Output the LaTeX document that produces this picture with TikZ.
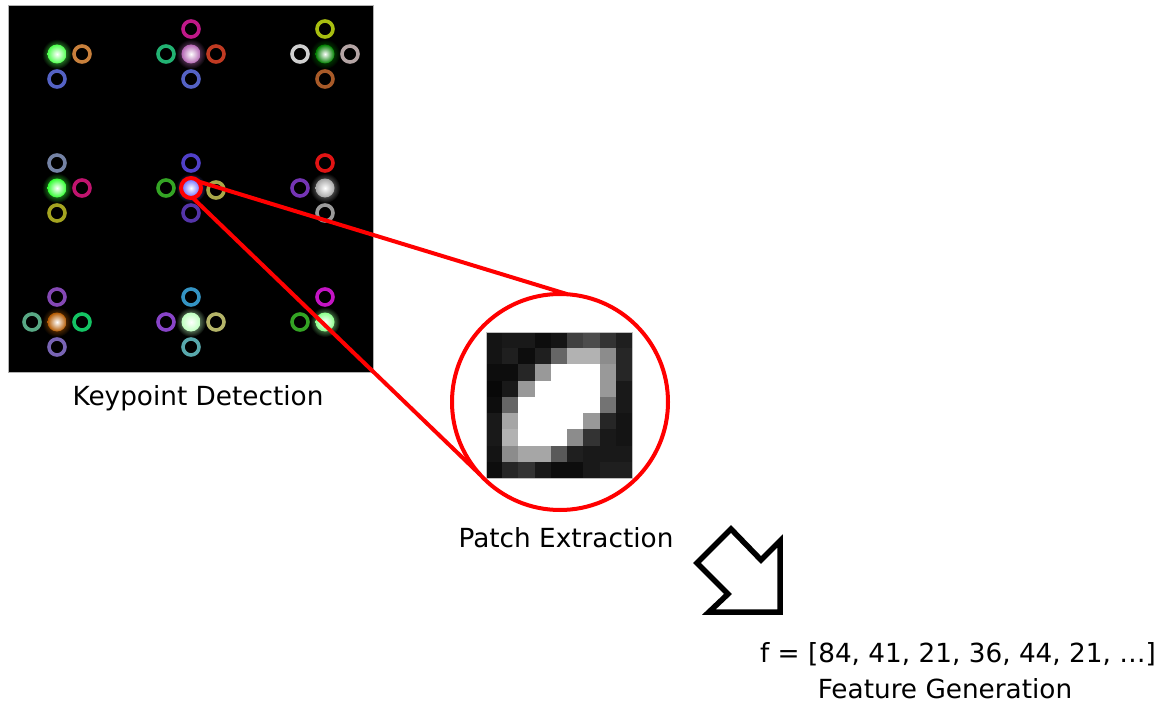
\documentclass[tikz,border=0pt]{standalone}
\usepackage{fontspec}
\usetikzlibrary{calc}
\setmainfont{DejaVu Sans}
\definecolor{cOrange}{HTML}{C8803C}
\definecolor{cBlue}{HTML}{5462C4}
\definecolor{cMag}{HTML}{C01888}
\definecolor{cGreen}{HTML}{22B272}
\definecolor{cRedO}{HTML}{C03A22}
\definecolor{cYG}{HTML}{A8BE10}
\definecolor{cLGray}{HTML}{CFCFCF}
\definecolor{cPGray}{HTML}{B4A4A4}
\definecolor{cBrown}{HTML}{A85A28}
\definecolor{cGBlue}{HTML}{7482A4}
\definecolor{cPink}{HTML}{C0146E}
\definecolor{cOlive}{HTML}{A4A420}
\definecolor{cViolet}{HTML}{5040C8}
\definecolor{cLeaf}{HTML}{34A424}
\definecolor{cOlive2}{HTML}{A8A848}
\definecolor{cPurp}{HTML}{5434A8}
\definecolor{cRed}{HTML}{E01414}
\definecolor{cPurp2}{HTML}{7434B4}
\definecolor{cGray}{HTML}{9A9A9A}
\definecolor{cPurp3}{HTML}{8448B4}
\definecolor{cTeal}{HTML}{58A884}
\definecolor{cGreen2}{HTML}{14C464}
\definecolor{cLav}{HTML}{7864B4}
\definecolor{cCyan}{HTML}{3494C4}
\definecolor{cPurp4}{HTML}{8844C8}
\definecolor{cOlive3}{HTML}{B4B468}
\definecolor{cTeal2}{HTML}{58A8AC}
\definecolor{cMag2}{HTML}{C414C4}
\newcommand\kpblob[3]{%
  \shade[inner color=#3, outer color=black] (#1,#2) circle (15pt);
  \shade[inner color=white, outer color=#3] (#1,#2) circle (9.5pt);}
\begin{document}
\begin{tikzpicture}[x=1pt,y=-1pt,
  ring/.style={draw=#1, line width=3.6pt},
  lbl/.style={font=\fontsize{26.3}{30}\selectfont, anchor=base, inner sep=0pt},
  redline/.style={draw=red, line width=4pt},
  px/.style={inner sep=0pt, outer sep=0pt}]
\useasboundingbox (0,0) rectangle (1171,709);
% keypoint image
\node[px, draw=gray!60, line width=1pt, fill=black, minimum width=365pt,
      minimum height=366pt, anchor=north west] (img) at (8,6) {};
% blobs
\kpblob{57}{54}{green!70!white}
\kpblob{191}{54}{violet!60!white}
\kpblob{325}{54}{green!50!black}
\kpblob{57}{188}{green!80!white}
\kpblob{191}{188}{blue!60!white}
\kpblob{325}{188}{gray!70!white}
\kpblob{57}{322}{orange!70!black}
\kpblob{191}{322}{green!25!white}
\kpblob{325}{322}{green!45!white}
% rings
\foreach \x/\y/\c in {
  82/54/cOrange, 57/79/cBlue,
  191/29/cMag, 166/54/cGreen, 216/54/cRedO, 191/79/cBlue,
  325/29/cYG, 300/54/cLGray, 350/54/cPGray, 325/79/cBrown,
  57/163/cGBlue, 82/188/cPink, 57/213/cOlive,
  191/163/cViolet, 166/188/cLeaf, 216/190/cOlive2, 191/213/cPurp,
  325/163/cRed, 300/188/cPurp2, 325/213/cGray,
  57/297/cPurp3, 32/322/cTeal, 82/322/cGreen2, 57/347/cLav,
  191/297/cCyan, 166/322/cPurp4, 216/322/cOlive3, 191/347/cTeal2,
  325/297/cMag2, 300/322/cLeaf}
  \draw[ring=\c] (\x,\y) circle (8pt);
% patch
\node[px, minimum size=146pt, anchor=north west] (patch) at (486,332) {};
\foreach \row [count=\r from 0] in {
  {8,10,10,5,8,25,30,20,12},
  {8,12,5,12,40,70,70,55,15},
  {5,5,15,60,100,100,100,60,15},
  {3,10,60,100,100,100,100,60,10},
  {5,40,100,100,100,100,100,45,10},
  {10,65,100,100,100,100,60,15,8},
  {10,70,100,100,100,55,20,10,8},
  {8,55,65,65,35,12,10,10,10},
  {5,15,20,10,5,5,10,12,12}}
  \foreach \v [count=\c from 0] in \row
    \fill[white!\v!black] ($(patch.north west)+(\c*16.222,\r*16.222)$)
      rectangle ++(16.4,16.4);
\draw[gray!50, line width=0.6pt] (patch.north west) rectangle (patch.south east);
% magnifier
\node[px, circle, draw=red, line width=4pt, minimum size=216pt] (mag) at (560,402) {};
\node[px, circle, draw=red, line width=4pt, minimum size=20pt] (kp) at (191,188) {};
\draw[redline] (kp.40) -- (mag.86);
\draw[redline] (kp.280) -- (mag.222);
% hollow arrow
\draw[line width=5.5pt, fill=white, line join=miter]
  (731,529) -- (761,560) -- (780,541) -- (780,612) -- (709,612)
  -- (728,594) -- (697,563) -- cycle;
% labels
\node[lbl] (t1) at (198,405) {Keypoint Detection};
\node[lbl] (t2) at (566,547) {Patch Extraction};
\node[lbl] (t3) at (958,662) {f = [84, 41, 21, 36, 44, 21, …]};
\node[lbl] (t4) at (945,698) {Feature Generation};
\end{tikzpicture}
\end{document}
